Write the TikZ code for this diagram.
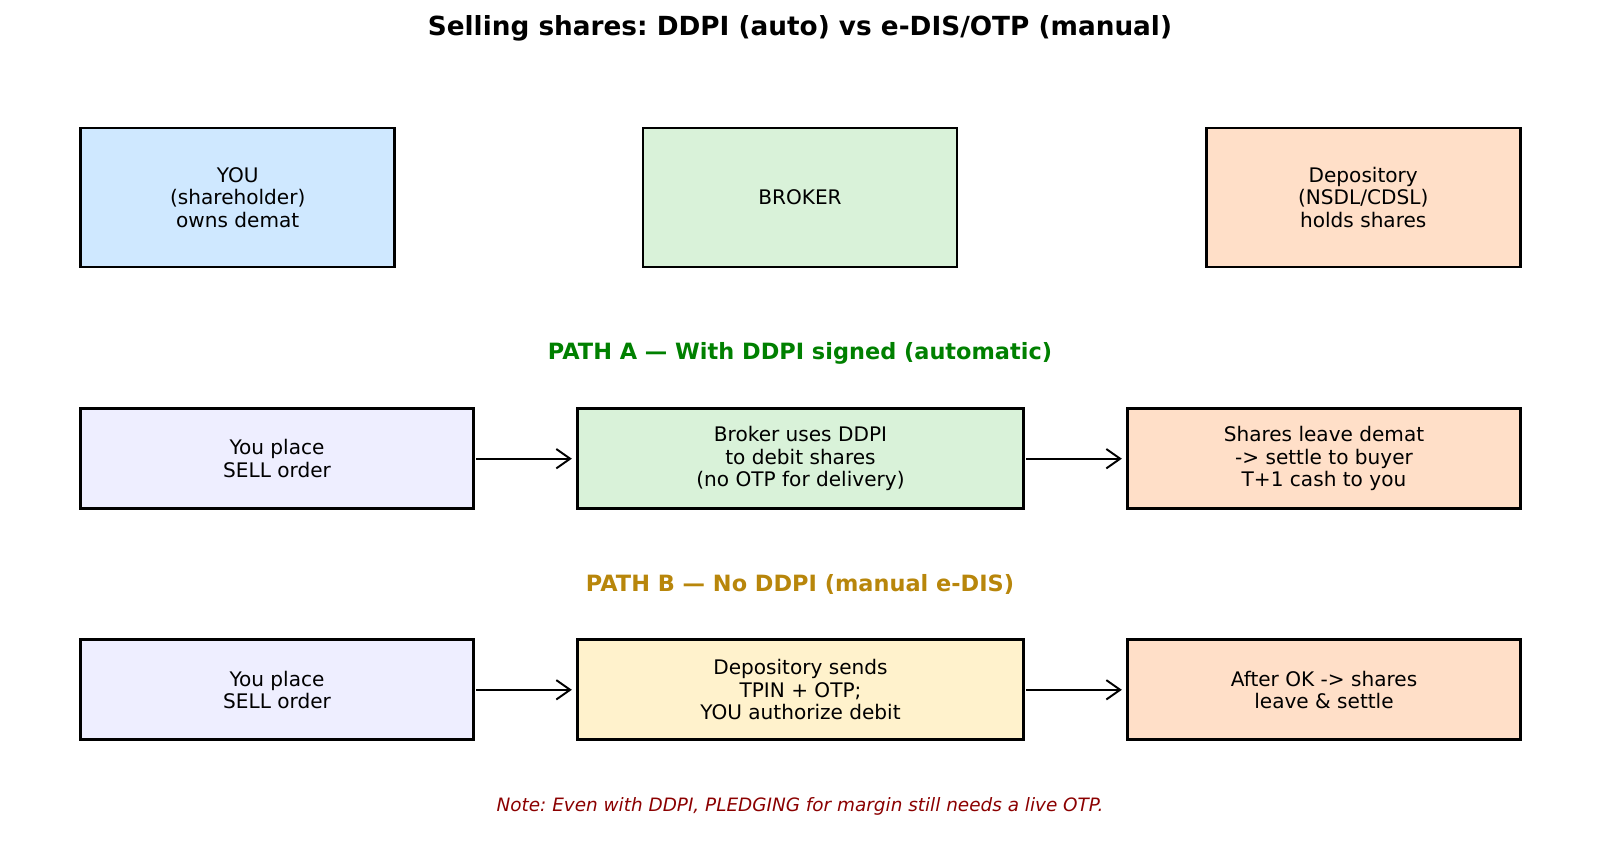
\documentclass[tikz,border=0pt]{standalone}
\usepackage{xcolor}
\usepackage{fontspec}
\setmainfont{DejaVu Sans}
\usetikzlibrary{arrows.meta,positioning}
\frenchspacing

\definecolor{youblue}{HTML}{CFE8FF}
\definecolor{brokergreen}{HTML}{D9F2D9}
\definecolor{deppeach}{HTML}{FFDFC8}
\definecolor{orderlav}{HTML}{EEEEFF}
\definecolor{otpyellow}{HTML}{FFF2CC}
\definecolor{pathagreen}{HTML}{008000}
\definecolor{pathbgold}{HTML}{B8860B}
\definecolor{notered}{HTML}{8B0000}

\begin{document}
\begin{tikzpicture}[x=0.01in, y=-0.01in,
  party/.style={rectangle, draw=black, line width=2pt, minimum width=3.14in, minimum height=1.39in, align=center, font=\fontsize{14.5}{16.2}\selectfont},
  stepwide/.style={rectangle, draw=black, line width=2pt, minimum width=3.93in, minimum height=1.0in, align=center, font=\fontsize{14.5}{16.2}\selectfont},
  stepmid/.style={stepwide, minimum width=4.46in},
  pathlabel/.style={font=\fontsize{16.2}{19}\selectfont\bfseries},
  arrow/.style={-{Straight Barb[length=10pt, width=14pt]}, line width=1.4pt, shorten <=1pt, shorten >=3pt}
]
\useasboundingbox (0,0) rectangle (1600,865);

% Title
\node[font=\fontsize{19}{22}\selectfont\bfseries] (title) at (800,28.5) {Selling shares: DDPI (auto) vs e-DIS/OTP (manual)};

% Parties
\node[party, fill=youblue] (you) at (237.75,197.5) {YOU\\(shareholder)\\owns demat};
\node[party, fill=brokergreen] (broker) at (800,197.5) {BROKER};
\node[party, fill=deppeach] (depo) at (1363.25,197.5) {Depository\\(NSDL/CDSL)\\holds shares};

% Path A
\node[pathlabel, text=pathagreen] (patha) at (800,353) {PATH A --- With DDPI signed (automatic)};
\node[stepwide, fill=orderlav] (asell) at (277,458.7) {You place\\SELL order};
\node[stepmid, fill=brokergreen] (abroker) at (800.5,458.7) {Broker uses DDPI\\to debit shares\\(no OTP for delivery)};
\node[stepwide, fill=deppeach] (asettle) at (1324,458.7) {Shares leave demat\\-> settle to buyer\\T+1 cash to you};

% Path B
\node[pathlabel, text=pathbgold] (pathb) at (800,584) {PATH B --- No DDPI (manual e-DIS)};
\node[stepwide, fill=orderlav] (bsell) at (277,689.8) {You place\\SELL order};
\node[stepmid, fill=otpyellow] (botp) at (800.5,689.8) {Depository sends\\TPIN + OTP;\\YOU authorize debit};
\node[stepwide, fill=deppeach] (bsettle) at (1324,689.8) {After OK -> shares\\leave \& settle};

% Connections
\draw[arrow] (asell) -- (abroker);
\draw[arrow] (abroker) -- (asettle);
\draw[arrow] (bsell) -- (botp);
\draw[arrow] (botp) -- (bsettle);

% Note
\node[font=\fontsize{13.3}{16}\selectfont\itshape, text=notered] (note) at (800,806) {Note: Even with DDPI, PLEDGING for margin still needs a live OTP.};

\end{tikzpicture}
\end{document}
